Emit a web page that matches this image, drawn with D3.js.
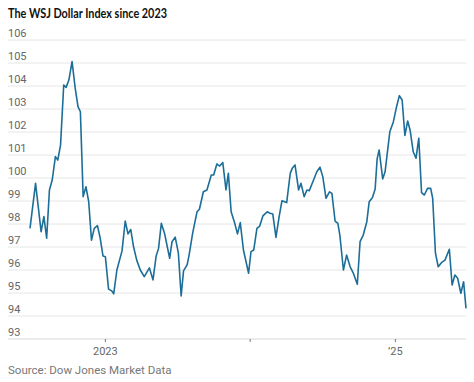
<!DOCTYPE html>
<html>
<head>
<meta charset="utf-8">
<script src="https://cdn.jsdelivr.net/npm/d3@7"></script>
<style>
  body { margin: 0; background: #fff; }
  svg { display: block; font-family: "Liberation Sans Narrow", Roboto, sans-serif; }
</style>
</head>
<body>
<div id="chart"></div>
<script>
// WSJ Dollar Index
const dates = [
  "2022-06-25","2022-07-09","2022-07-23","2022-07-30","2022-08-06","2022-08-13","2022-08-20","2022-08-28",
  "2022-09-03","2022-09-10","2022-09-18","2022-09-24","2022-10-01","2022-10-09","2022-10-17","2022-10-24",
  "2022-10-30","2022-11-06","2022-11-13","2022-11-20","2022-11-27","2022-12-04","2022-12-12","2022-12-19",
  "2022-12-26","2023-01-01","2023-01-09","2023-01-17","2023-01-22","2023-01-30","2023-02-12","2023-02-20",
  "2023-02-27","2023-03-06","2023-03-13","2023-03-21","2023-03-30","2023-04-09","2023-04-22","2023-05-01",
  "2023-05-09","2023-05-15","2023-05-22","2023-05-30","2023-06-12","2023-06-18","2023-06-26","2023-07-04",
  "2023-07-11","2023-07-17","2023-07-26","2023-07-31","2023-08-09","2023-08-20","2023-08-26","2023-09-05",
  "2023-09-14","2023-09-25","2023-10-01","2023-10-09","2023-10-16","2023-10-24","2023-11-01","2023-11-07",
  "2023-11-14","2023-11-22","2023-11-30","2023-12-07","2023-12-15","2023-12-28","2024-01-03","2024-01-10",
  "2024-01-18","2024-01-25","2024-02-02","2024-02-13","2024-02-20","2024-02-27","2024-03-06","2024-03-14",
  "2024-03-21","2024-04-02","2024-04-11","2024-04-16","2024-04-23","2024-05-02","2024-05-08","2024-05-16",
  "2024-05-23","2024-05-29","2024-06-07","2024-06-17","2024-06-25","2024-07-02","2024-07-10","2024-07-19",
  "2024-07-25","2024-08-02","2024-08-09","2024-08-14","2024-08-23","2024-08-31","2024-09-09","2024-09-17",
  "2024-09-27","2024-10-04","2024-10-12","2024-10-21","2024-10-27","2024-11-04","2024-11-11","2024-11-16",
  "2024-11-21","2024-11-30","2024-12-06","2024-12-18","2024-12-27","2025-01-04","2025-01-11","2025-01-18",
  "2025-01-25","2025-02-01","2025-02-07","2025-02-15","2025-02-22","2025-03-01","2025-03-08","2025-03-15",
  "2025-03-23","2025-03-31","2025-04-05","2025-04-12","2025-04-19","2025-04-27","2025-05-06","2025-05-17",
  "2025-05-24","2025-05-31","2025-06-07","2025-06-15","2025-06-22","2025-06-28"
];

const values = [
  97.81, 99.77, 97.67, 98.32, 97.38, 99.48, 99.91, 100.93,
  100.78, 101.43, 104.04, 103.94, 104.26, 105.06, 103.90, 103.10,
  102.88, 99.19, 99.62, 98.97, 97.30, 97.81, 97.93, 97.38,
  96.61, 96.58, 95.17, 95.09, 94.96, 96.00, 96.83, 98.13,
  97.57, 97.76, 97.01, 96.43, 96.00, 95.71, 96.09, 95.57,
  96.61, 96.94, 98.03, 97.60, 96.51, 97.23, 97.43, 96.73,
  94.87, 95.96, 96.22, 96.65, 97.60, 98.53, 98.64, 99.40,
  99.48, 100.13, 100.13, 100.61, 100.52, 100.67, 99.48, 100.20,
  98.53, 98.10, 97.57, 98.06, 96.87, 95.86, 96.80, 96.87,
  97.81, 97.91, 98.35, 98.53, 98.47, 98.43, 97.42, 98.32,
  99.01, 98.93, 100.20, 100.42, 100.57, 99.48, 99.77, 99.19,
  99.48, 99.45, 99.84, 100.27, 100.47, 100.06, 99.12, 99.40,
  99.33, 98.13, 98.03, 97.52, 96.00, 96.65, 96.14, 95.86,
  95.38, 97.23, 97.52, 98.10, 98.97, 99.14, 99.52, 100.83,
  101.22, 99.96, 100.27, 102.01, 102.45, 103.10, 103.58, 103.39,
  101.85, 102.48, 102.09, 101.14, 100.86, 101.73, 99.36, 99.26,
  99.55, 99.55, 99.12, 96.73, 96.14, 96.32, 96.43, 96.90,
  95.35, 95.78, 95.64, 94.99, 95.49, 94.33
];

const yTicks = d3.range(93, 107);
const xTicks = ["2023-01-01", "2024-01-01", "2025-01-01"];
const xTickLabels = ["2023", "", "\u201925"];

const title = "The WSJ Dollar Index since 2023";
const source = "Source: Dow Jones Market Data";

const width = 474;
const height = 382;
const parseDate = d3.timeParse("%Y-%m-%d");

const data = dates.map((d, i) => ({ date: parseDate(d), value: values[i] }));

const svg = d3.select("#chart").append("svg").attr("width", width).attr("height", height);

const x = d3.scaleTime().domain(d3.extent(data, d => d.date)).range([30, 466]);
const y = d3.scaleLinear().domain([93, 106]).range([339, 40]);

svg.append("text")
  .attr("x", 8).attr("y", 18)
  .attr("font-family", "Lato, sans-serif")
  .attr("font-size", 12.5).attr("font-weight", 700).attr("fill", "#111")
  .attr("textLength", 159).attr("lengthAdjust", "spacingAndGlyphs")
  .text(title);

// gridlines + labels
const grid = svg.append("g");
grid.selectAll("line").data(yTicks).join("line")
  .attr("x1", 8).attr("x2", 466)
  .attr("y1", d => y(d)).attr("y2", d => y(d))
  .attr("stroke", d => d === 93 ? "#d6d6d6" : "#e6e6e6")
  .attr("stroke-width", 1);
grid.selectAll("text").data(yTicks).join("text")
  .attr("x", 8).attr("y", d => y(d) - 3)
  .attr("font-size", 11).attr("fill", "#666")
  .text(d => d);

// x ticks
const xt = svg.append("g");
xt.selectAll("line").data(xTicks).join("line")
  .attr("x1", d => x(parseDate(d))).attr("x2", d => x(parseDate(d)))
  .attr("y1", y(93)).attr("y2", y(93) + 3)
  .attr("stroke", "#777");
xt.selectAll("text").data(xTicks).join("text")
  .attr("x", d => x(parseDate(d))).attr("y", 355)
  .attr("text-anchor", "middle")
  .attr("font-size", 11).attr("fill", "#666")
  .text((d, i) => xTickLabels[i]);

const line = d3.line()
  .x(d => x(d.date))
  .y(d => y(d.value));

svg.append("path")
  .datum(data)
  .attr("fill", "none")
  .attr("stroke", "#1c6e98")
  .attr("stroke-width", 1.6)
  .attr("stroke-linejoin", "round")
  .attr("d", line);

svg.append("text")
  .attr("x", 8).attr("y", 374)
  .attr("font-size", 11.5).attr("fill", "#777")
  .text(source);
</script>
</body>
</html>
